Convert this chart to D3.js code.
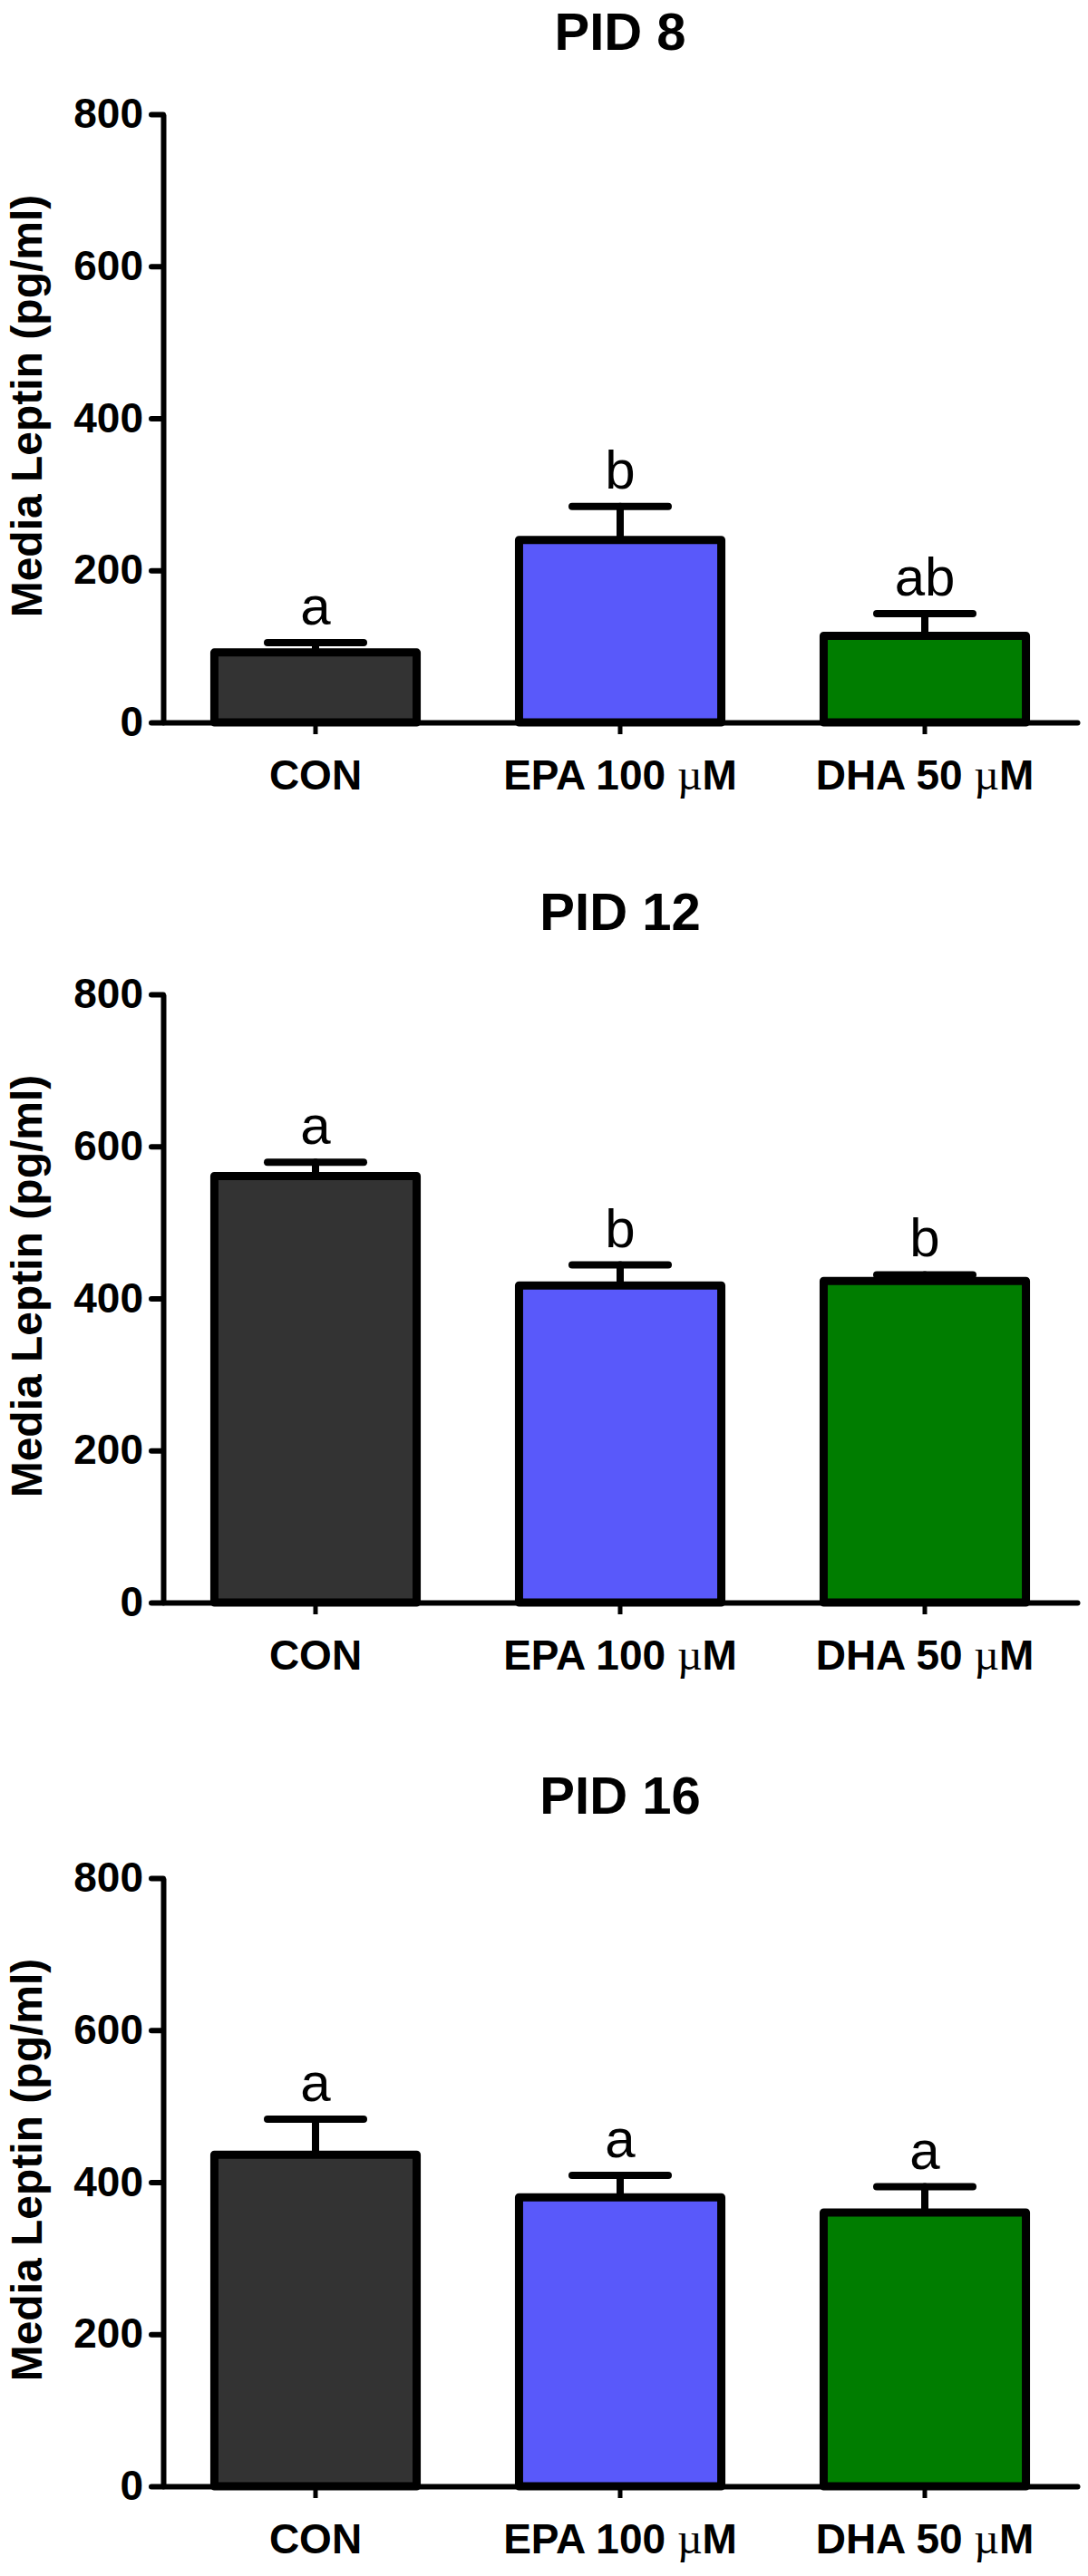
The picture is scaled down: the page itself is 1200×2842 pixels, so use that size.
<!DOCTYPE html>
<html>
<head>
<meta charset="utf-8">
<script src="https://cdn.jsdelivr.net/npm/d3@7"></script>
<style>
  html, body { margin: 0; padding: 0; background: #fff; }
  svg { display: block; }
  text { font-family: "Liberation Sans", Arial, Helvetica, sans-serif; }
</style>
</head>
<body>
<div id="chart"></div>
<script>
// ---- data ----
const categories = ["CON", "EPA 100 µM", "DHA 50 µM"];
const panelTitles = ["PID 8", "PID 12", "PID 16"];
const yTicks = [0, 200, 400, 600, 800];
const yLabel = "Media Leptin (pg/ml)";

const meanPID8  = [92, 240, 114];
const errPID8   = [13, 44, 29];
const letPID8   = ["a", "b", "ab"];

const meanPID12 = [561, 417, 423];
const errPID12  = [18, 27, 8];
const letPID12  = ["a", "b", "b"];

const meanPID16 = [436, 380, 360];
const errPID16  = [47, 29, 34];
const letPID16  = ["a", "a", "a"];

const barColors = ["#333333", "#5959FA", "#007D00"];

// ---- layout ----
const W = 1200, H = 2842;
const panelTops = [126, 1097, 2072];
const plotH = 671;
const xLeft = 180, xRight = 1188;

const panels = [
  { title: panelTitles[0], mean: meanPID8,  err: errPID8,  letters: letPID8 },
  { title: panelTitles[1], mean: meanPID12, err: errPID12, letters: letPID12 },
  { title: panelTitles[2], mean: meanPID16, err: errPID16, letters: letPID16 }
];

const svg = d3.select("#chart").append("svg")
  .attr("width", W).attr("height", H)
  .attr("viewBox", `0 0 ${W} ${H}`);
svg.append("rect").attr("width", W).attr("height", H).attr("fill", "#fff");

panels.forEach((p, i) => {
  const g = svg.append("g").attr("transform", `translate(0,${panelTops[i]})`);

  const y = d3.scaleLinear().domain([0, 800]).range([plotH, 0]);
  const x = d3.scaleBand().domain(categories).range([xLeft, xRight])
    .paddingInner(0.336).paddingOuter(0.168);

  const rows = categories.map((c, k) => ({ c, v: p.mean[k], e: p.err[k], l: p.letters[k], col: barColors[k] }));

  // title
  g.append("text")
    .attr("x", (xLeft + xRight) / 2).attr("y", -71)
    .attr("text-anchor", "middle")
    .attr("font-size", 58).attr("font-weight", "bold")
    .text(p.title);

  // y label
  g.append("text")
    .attr("transform", `translate(46,${322}) rotate(-90)`)
    .attr("text-anchor", "middle")
    .attr("font-size", 48).attr("font-weight", "bold")
    .text(yLabel);

  // error bars
  const eb = g.append("g").attr("stroke", "#000").attr("stroke-width", 8).attr("stroke-linecap", "round");
  rows.forEach(r => {
    const cx = x(r.c) + x.bandwidth() / 2;
    eb.append("line").attr("x1", cx).attr("x2", cx).attr("y1", y(r.v)).attr("y2", y(r.v + r.e));
    eb.append("line").attr("x1", cx - 53).attr("x2", cx + 53).attr("y1", y(r.v + r.e)).attr("y2", y(r.v + r.e));
  });

  // bars
  g.append("g").selectAll("rect").data(rows).join("rect")
    .attr("x", d => x(d.c))
    .attr("width", x.bandwidth())
    .attr("y", d => y(d.v))
    .attr("height", d => y(0) - y(d.v))
    .attr("fill", d => d.col)
    .attr("stroke", "#000")
    .attr("stroke-width", 9)
    .attr("stroke-linejoin", "round");

  // letters
  g.append("g").selectAll("text").data(rows).join("text")
    .attr("x", d => x(d.c) + x.bandwidth() / 2)
    .attr("y", d => y(d.v + d.e) - 20)
    .attr("text-anchor", "middle")
    .attr("font-size", 60)
    .text(d => d.l);

  // x axis
  const xa = g.append("g").attr("transform", `translate(0,${plotH})`)
    .call(d3.axisBottom(x).tickSize(13).tickSizeOuter(0));
  xa.select(".domain").attr("stroke-width", 6).attr("stroke-linecap", "round");
  xa.selectAll(".tick line").attr("stroke-width", 5);
  xa.selectAll(".tick text").each(function(d) {
    const t = d3.select(this);
    t.text(null).attr("y", 74).attr("dy", 0)
      .attr("font-size", 46).attr("font-weight", "bold").attr("fill", "#000")
      .attr("font-family", "'Liberation Sans', Arial, sans-serif");
    const idx = d.indexOf("µ");
    if (idx >= 0) {
      t.append("tspan").text(d.slice(0, idx));
      t.append("tspan").text("µ").attr("font-family", "'Liberation Serif', 'DejaVu Serif', serif").attr("font-weight", "normal").attr("font-size", 48);
      t.append("tspan").text(d.slice(idx + 1));
    } else {
      t.text(d);
    }
  });

  // y axis
  const ya = g.append("g").attr("transform", `translate(${xLeft},0)`)
    .call(d3.axisLeft(y).tickValues(yTicks).tickSize(13).tickSizeOuter(0).tickPadding(9).tickFormat(d3.format("d")));
  ya.select(".domain").attr("stroke-width", 6);
  ya.selectAll(".tick line").attr("stroke-width", 6).attr("stroke-linecap", "round");
  ya.selectAll(".tick text")
    .attr("font-size", 46).attr("font-weight", "bold").attr("fill", "#000")
    .attr("font-family", "'Liberation Sans', Arial, sans-serif");
});
</script>
</body>
</html>
